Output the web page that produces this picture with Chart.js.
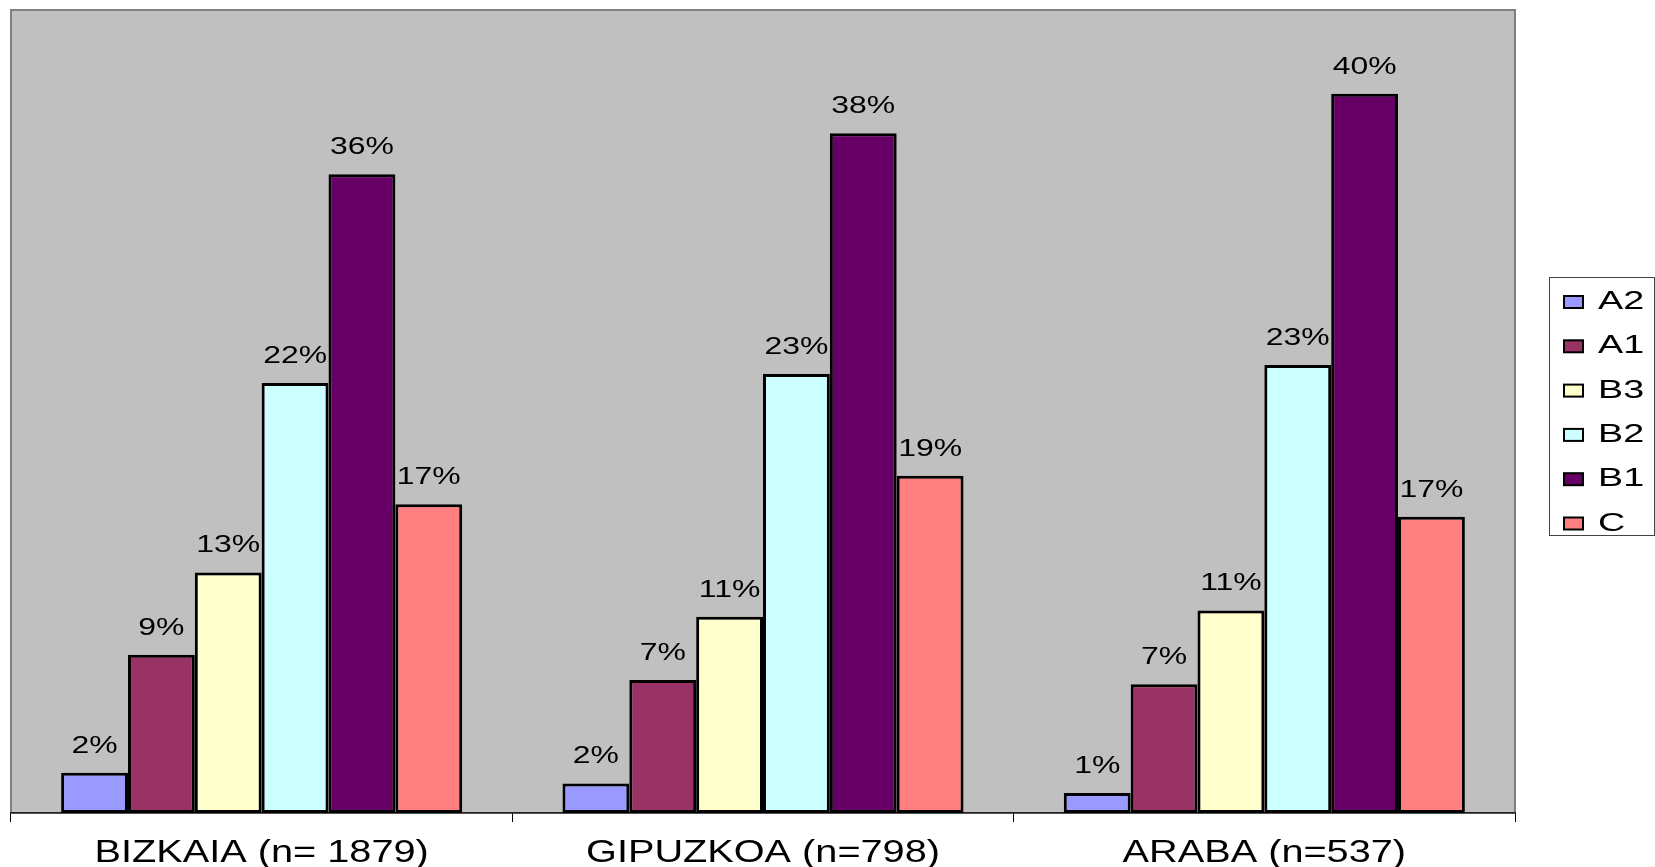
<!DOCTYPE html>
<html>
<head>
<meta charset="utf-8">
<script src="https://cdn.jsdelivr.net/npm/chart.js@4.4.1/dist/chart.umd.min.js"></script>
<style>
html, body { margin: 0; padding: 0; background: #fff; }
#wrap { width: 1655px; height: 867px; position: relative; }
</style>
</head>
<body>
<div id="wrap"><canvas id="myChart"></canvas></div>
<script>
// categories and series
var regions = ["BIZKAIA (n= 1879)", "GIPUZKOA (n=798)", "ARABA (n=537)"];
var levels = ["A2", "A1", "B3", "B2", "B1", "C"];
var a2 = [2.25, 1.66, 1.12];
var a1 = [8.87, 7.45, 7.21];
var b3 = [13.48, 11.0, 11.35];
var b2 = [24.1, 24.6, 25.1];
var b1 = [35.8, 38.1, 40.3];
var c = [17.3, 18.9, 16.6];
// printed labels (as they appear on the chart)
var a2Text = ["2%", "2%", "1%"];
var a1Text = ["9%", "7%", "7%"];
var b3Text = ["13%", "11%", "11%"];
var b2Text = ["22%", "23%", "23%"];
var b1Text = ["36%", "38%", "40%"];
var cText = ["17%", "19%", "17%"];
var yMax = 45;

var levelColors = ["#9999FF", "#993366", "#FFFFCC", "#CCFFFF", "#660066", "#FF8080"];
var seriesValues = [a2, a1, b3, b2, b1, c];
var seriesText = [a2Text, a1Text, b3Text, b2Text, b1Text, cText];

var FONT = '"Liberation Sans", Arial, sans-serif';
var stretch = 1.33;

function drawText(ctx, text, x, y, size, align, sx) {
    ctx.save();
    ctx.translate(x, y);
    ctx.scale(sx || stretch, 1);
    ctx.font = size + 'px ' + FONT;
    ctx.textAlign = align;
    ctx.textBaseline = 'alphabetic';
    ctx.fillStyle = '#000';
    ctx.fillText(text, 0, 0);
    ctx.restore();
}

var plotFrame = {
    id: 'plotFrame',
    beforeDraw: function (chart) {
        var ctx = chart.ctx, a = chart.chartArea;
        ctx.save();
        ctx.fillStyle = '#C0C0C0';
        ctx.fillRect(a.left, a.top, a.right - a.left, a.bottom - a.top);
        ctx.strokeStyle = '#808080';
        ctx.lineWidth = 2;
        ctx.strokeRect(a.left, a.top, a.right - a.left, a.bottom - a.top);
        ctx.restore();
    },
    afterDraw: function (chart) {
        var ctx = chart.ctx;
        // value labels
        chart.data.datasets.forEach(function (ds, i) {
            var meta = chart.getDatasetMeta(i);
            meta.data.forEach(function (bar, j) {
                drawText(ctx, seriesText[i][j], bar.x, bar.y - 20, 24, 'center');
            });
        });
        // category labels
        var xs = chart.scales.x;
        chart.data.labels.forEach(function (lab, j) {
            drawText(ctx, lab, xs.getPixelForValue(j), 862, 31, 'center', 1.28);
        });
        // legend
        var lx = 1549, ly = 277, lw = 105, lh = 258;
        ctx.save();
        ctx.fillStyle = '#fff';
        ctx.fillRect(lx, ly, lw, lh);
        ctx.strokeStyle = '#444';
        ctx.lineWidth = 1;
        ctx.strokeRect(lx + 0.5, ly + 0.5, lw, lh);
        chart.data.datasets.forEach(function (ds, i) {
            var base = 309 + i * 44.3;
            ctx.fillStyle = ds.backgroundColor;
            ctx.fillRect(1564, base - 13, 19, 12);
            ctx.strokeStyle = '#000';
            ctx.lineWidth = 2;
            ctx.strokeRect(1564, base - 13, 19, 12);
            drawText(ctx, ds.label, 1598, base, 26, 'left', 1.45);
        });
        ctx.restore();
    }
};

new Chart("myChart", {
    type: "bar",
    data: {
        labels: regions,
        datasets: levels.map(function (lv, i) {
            return {
                label: lv,
                data: seriesValues[i],
                backgroundColor: levelColors[i],
                borderColor: "#000",
                borderWidth: 3,
                borderSkipped: false,
                categoryPercentage: 0.8,
                barPercentage: 1.0
            };
        })
    },
    options: {
        responsive: true,
        maintainAspectRatio: false,
        animation: false,
        layout: { padding: { left: 11, top: 10, right: 140, bottom: 45 } },
        plugins: {
            legend: { display: false },
            tooltip: { enabled: false }
        },
        scales: {
            x: {
                grid: { display: true, drawOnChartArea: false, drawTicks: true, tickLength: 9, color: '#000', offset: true },
                border: { display: true, color: '#222', width: 1.5 },
                ticks: { display: false }
            },
            y: {
                display: false,
                min: 0,
                max: yMax
            }
        }
    },
    plugins: [plotFrame]
});
</script>
</body>
</html>
